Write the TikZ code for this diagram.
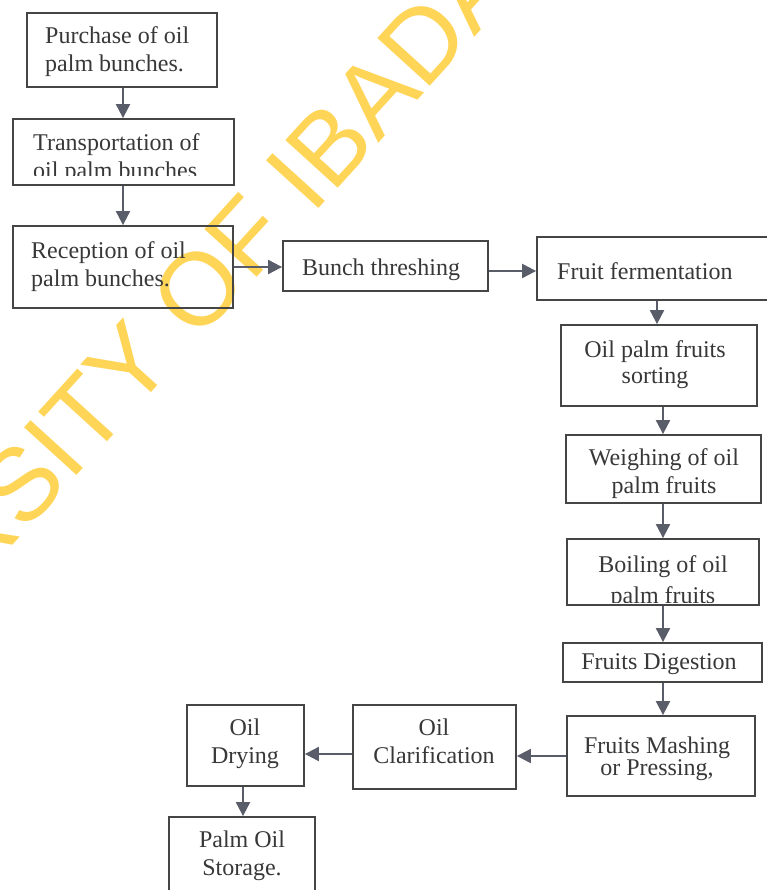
\documentclass[tikz,border=0pt]{standalone}
\usepackage{fontspec}
\setmainfont{Liberation Serif}
\newfontfamily\wmfont{Liberation Sans}
\usetikzlibrary{arrows.meta}
\definecolor{ink}{HTML}{383838}
\definecolor{frame}{HTML}{454545}
\definecolor{arrowc}{HTML}{585D69}
\definecolor{wm}{RGB}{255,213,88}
\begin{document}
\begin{tikzpicture}[x=1pt,y=-1pt,
  box/.style={draw=frame, line width=1.8pt, inner sep=0pt},
  lbl/.style={inner sep=0pt, text=ink, font=\fontsize{24}{28}\selectfont},
  flow/.style={draw=arrowc, line width=2pt, -{Triangle[length=14pt,width=14pt]}},
  wmtext/.style={inner sep=0pt, text=wm, font=\wmfont\fontsize{103}{105}\selectfont}
]
\useasboundingbox (0,0) rectangle (767,890);
\fill[white] (0,0) rectangle (767,890);

% watermark
\node[wmtext, rotate=47.7, anchor=base west] (wmark) at (-238,821) {UNIVERSITY OF IBADAN};

% boxes
\node[box, minimum width=190pt, minimum height=74pt] (purchase)  at (122,50) {};
\node[box, minimum width=221pt, minimum height=66pt] (transport) at (123.5,152) {};
\node[box, minimum width=220pt, minimum height=82pt] (reception) at (123,267) {};
\node[box, minimum width=205pt, minimum height=50pt] (bunch)     at (385.5,266) {};
\node[box, minimum width=238pt, minimum height=63pt] (ferment)   at (656,268.5) {};
\node[box, minimum width=196pt, minimum height=81pt] (sorting)   at (659,365.5) {};
\node[box, minimum width=195pt, minimum height=68pt] (weighing)  at (663.5,469) {};
\node[box, minimum width=192pt, minimum height=66pt] (boiling)   at (663,572) {};
\node[box, minimum width=199pt, minimum height=39pt] (digestion) at (662.5,662.5) {};
\node[box, minimum width=188pt, minimum height=80pt] (mashing)   at (661,756) {};
\node[box, minimum width=163pt, minimum height=84pt] (clar)      at (434.5,747) {};
\node[box, minimum width=117pt, minimum height=81pt] (drying)    at (245.5,745.5) {};
\node[box, minimum width=146pt, minimum height=83pt] (storage)   at (242,858.5) {};

% texts
\node[lbl, anchor=north west, align=left] (purchase-t) at (45,26.6) {Purchase of oil\\palm bunches.};
\begin{scope}
  \clip (13,119) rectangle (234,176);
  \node[lbl, anchor=north west, align=left] (transport-t) at (33,133.6) {Transportation of\\oil palm bunches};
\end{scope}
\node[lbl, anchor=north west, align=left] (reception-t) at (31,241.6) {Reception of oil\\palm bunches.};
\node[lbl, anchor=north] (bunch-t) at (381,258.6) {Bunch threshing};
\node[lbl, anchor=north west] (ferment-t) at (557,262.6) {Fruit fermentation};
\node[lbl, anchor=north, align=center, font=\fontsize{24}{26}\selectfont] (sorting-t) at (655,340.6) {Oil palm fruits\\sorting};
\node[lbl, anchor=north, align=center] (weighing-t) at (664,448.6) {Weighing of oil\\palm fruits};
\begin{scope}
  \clip (567,539) rectangle (759,602);
  \node[lbl, anchor=north, align=center, font=\fontsize{24}{31}\selectfont] (boiling-t) at (663,555.6) {Boiling of oil\\palm fruits};
\end{scope}
\node[lbl, anchor=north] (digestion-t) at (659,653.6) {Fruits Digestion};
\node[lbl, anchor=north, align=center, font=\fontsize{24}{22}\selectfont] (mashing-t) at (657,736.6) {Fruits Mashing\\or Pressing,};
\node[lbl, anchor=north, align=center] (clar-t) at (434,718.6) {Oil\\Clarification};
\node[lbl, anchor=north, align=center] (drying-t) at (245,718.6) {Oil\\Drying};
\node[lbl, anchor=north, align=center] (storage-t) at (242,830.6) {Palm Oil\\Storage.};

% connectors
\draw[flow] (purchase.south -| 123,0) -- (transport.north -| 123,0);
\draw[flow] (transport.south -| 123,0) -- (reception.north -| 123,0);
\draw[flow] (reception.east |- 0,267) -- (bunch.west |- 0,267);
\draw[flow] (bunch.east |- 0,271) -- (ferment.west |- 0,271);
\draw[flow] (ferment.south -| 657,0) -- (sorting.north -| 657,0);
\draw[flow] (sorting.south -| 663,0) -- (weighing.north -| 663,0);
\draw[flow] (weighing.south -| 663,0) -- (boiling.north -| 663,0);
\draw[flow] (boiling.south -| 663,0) -- (digestion.north -| 663,0);
\draw[flow] (digestion.south -| 663,0) -- (mashing.north -| 663,0);
\draw[flow] (mashing.west |- 0,756) -- (clar.east |- 0,756);
\draw[flow] (clar.west |- 0,754) -- (drying.east |- 0,754);
\draw[flow] (drying.south -| 243,0) -- (storage.north -| 243,0);
\end{tikzpicture}
\end{document}
